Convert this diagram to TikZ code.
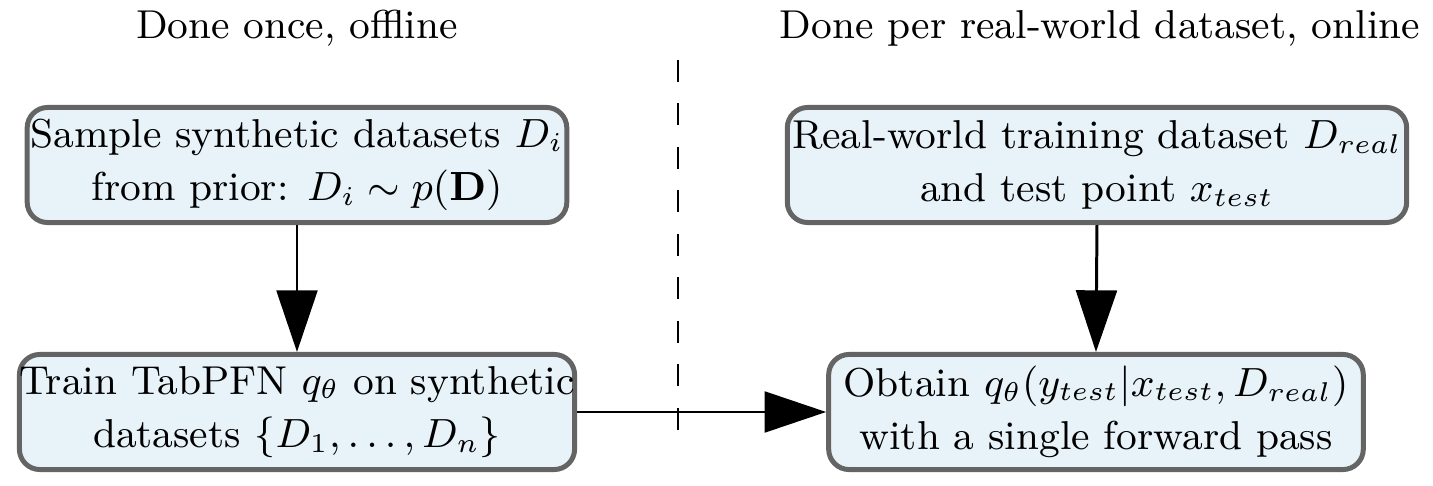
\documentclass[tikz,border=0pt]{standalone}
\usetikzlibrary{arrows.meta}
\definecolor{boxfill}{RGB}{232,243,249}
\definecolor{boxline}{RGB}{100,100,100}
\tikzset{
  flowbox/.style={draw=boxline, fill=boxfill, line width=1.1pt, rounded corners=4.5pt,
    align=center, inner sep=0pt, minimum height=25.4pt, font=\fontsize{8.9}{11.8}\selectfont},
  title/.style={font=\fontsize{8.9}{11}\selectfont, inner sep=0pt},
  flowarrow/.style={line width=0.66pt, -{Triangle[length=13.6pt,width=9pt]}},
  divider/.style={line width=0.66pt, dash pattern=on 4.8pt off 4.8pt}
}
\begin{document}
\begin{tikzpicture}[x=0.2207pt,y=-0.2207pt]
\useasboundingbox (0,0) rectangle (1433,486);
\node[title] (t1) at (297,28) {Done once, offline};
\node[title] (t2) at (1100,28) {Done per real-world dataset, online};
\node[flowbox, minimum width=119.1pt] (b1) at (297,165) {Sample synthetic datasets $D_i$\\from prior: $D_i \sim p(\mathbf{D})$};
\node[flowbox, minimum width=122.0pt] (b2) at (297,412) {Train TabPFN $q_\theta$ on synthetic\\datasets $\{D_1,\ldots,D_n\}$};
\node[flowbox, minimum width=136.7pt] (b3) at (1097,165) {Real-world training dataset $D_{real}$\\and test point $x_{test}$};
\node[flowbox, minimum width=118.0pt] (b4) at (1096,412) {Obtain $q_\theta(y_{test}|x_{test},D_{real})$\\with a single forward pass};
\coordinate (d1) at (678,60);
\coordinate (d2) at (678,435);
\draw[divider] (d1) -- (d2);
\draw[flowarrow] (b1.south) -- (b2.north);
\draw[flowarrow] (b3.south) -- (b4.north);
\draw[flowarrow] (b2.east) -- (b4.west);
\end{tikzpicture}
\end{document}
